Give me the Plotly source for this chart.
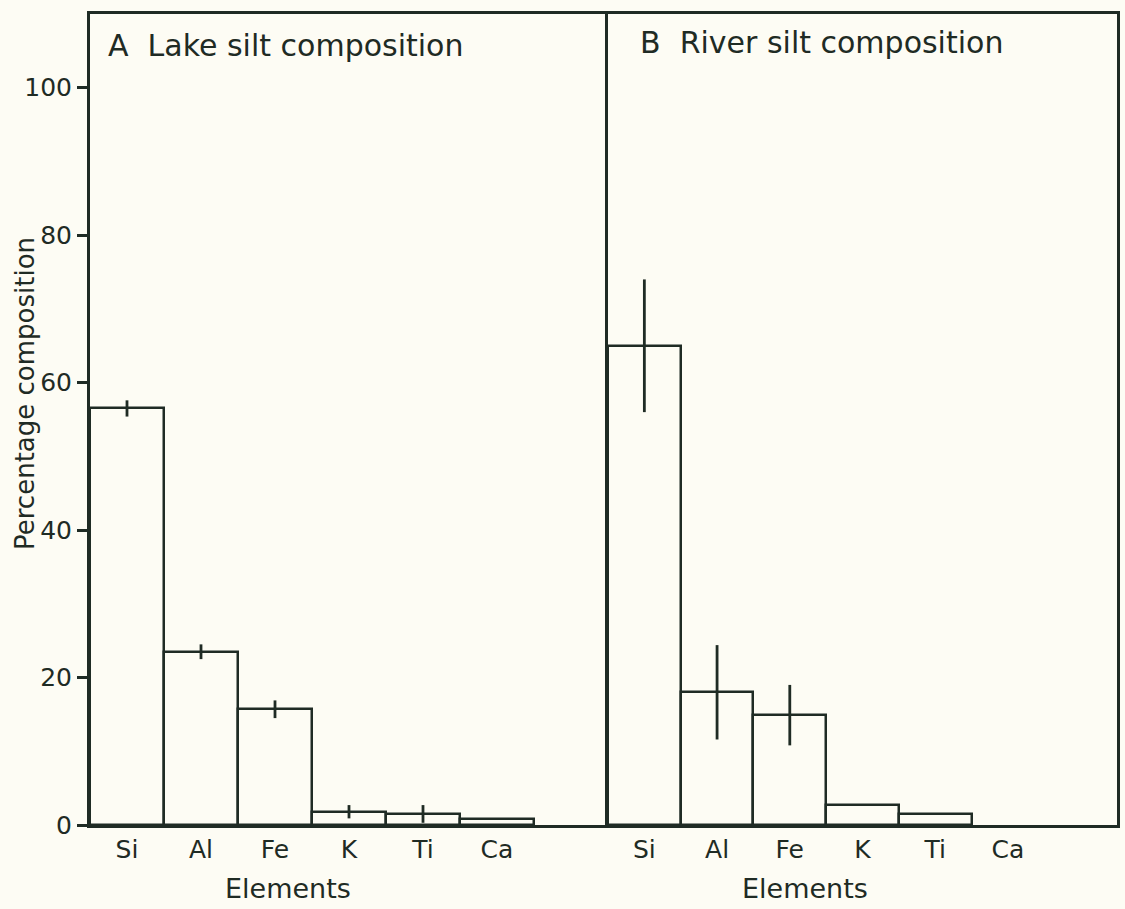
import plotly.graph_objects as go

# Element categories and mean percentage composition with spread
elements = ["Si", "Al", "Fe", "K", "Ti", "Ca"]

lake_values = [56.5, 23.5, 15.7, 1.8, 1.5, 0.8]
lake_errors = [1.1, 1.0, 1.2, 0.9, 1.2, 0.0]

river_values = [65.0, 18.0, 14.9, 2.7, 1.5, None]
river_errors = [9.0, 6.4, 4.1, 0.0, 0.0, 0.0]

y_ticks = [0, 20, 40, 60, 80, 100]

ink = "#1f2b24"
paper = "#fdfcf4"
font_family = "DejaVu Sans, Open Sans, sans-serif"

W, H = 1125, 909
ML, MR, MT, MB = 90, 8, 14, 84

fig = go.Figure()

def add_panel(values, errors, xref, yref):
    fig.add_trace(go.Bar(
        x=list(range(len(elements))), y=values,
        xaxis=xref, yaxis=yref,
        marker=dict(color=paper, line=dict(color=ink, width=2.5)),
        error_y=dict(type="data", array=errors, visible=True,
                     color=ink, thickness=2.8, width=0),
        width=1.0, showlegend=False,
    ))

add_panel(lake_values, lake_errors, "x", "y")
add_panel(river_values, river_errors, "x2", "y2")

split = 518 / 1027

common_x = dict(
    range=[-0.5, 6.5], tickmode="array",
    tickvals=list(range(len(elements))), ticktext=elements,
    showline=True, linecolor=ink, linewidth=3, mirror=True,
    ticks="", showgrid=False, zeroline=False, automargin=False,
    tickfont=dict(size=25, color=ink, family=font_family),
)

def px_to_paper_x(px):
    return (px - ML) / (W - ML - MR)

def px_to_paper_y(py):
    return (H - MB - py) / (H - MT - MB)

label_font = dict(size=27, color=ink, family=font_family)

fig.update_layout(
    width=W, height=H,
    margin=dict(l=ML, r=MR, t=MT, b=MB),
    paper_bgcolor=paper, plot_bgcolor=paper,
    bargap=0,
    xaxis=dict(domain=[0, split], anchor="y", **common_x),
    xaxis2=dict(domain=[split, 1], anchor="y2", **common_x),
    yaxis=dict(
        range=[0, 110], tickvals=y_ticks, ticktext=[str(v) for v in y_ticks],
        showline=True, linecolor=ink, linewidth=3,
        ticks="outside", ticklen=10, tickwidth=2.5, tickcolor=ink,
        showgrid=False, zeroline=False, automargin=False,
        tickfont=dict(size=25, color=ink, family=font_family),
        anchor="x",
    ),
    yaxis2=dict(
        range=[0, 110], showline=True, linecolor=ink, linewidth=3, mirror=True,
        showticklabels=False, ticks="", showgrid=False, zeroline=False,
        anchor="x2", automargin=False,
    ),
    annotations=[
        dict(text="A  Lake silt composition", xref="paper", yref="paper",
             x=px_to_paper_x(106), y=px_to_paper_y(46), xanchor="left", yanchor="middle",
             showarrow=False, font=dict(size=30, color=ink, family=font_family)),
        dict(text="B  River silt composition", xref="paper", yref="paper",
             x=px_to_paper_x(638), y=px_to_paper_y(43), xanchor="left", yanchor="middle",
             showarrow=False, font=dict(size=30, color=ink, family=font_family)),
        dict(text="Elements", xref="paper", yref="paper",
             x=px_to_paper_x(288), y=px_to_paper_y(888), xanchor="center", yanchor="middle",
             showarrow=False, font=label_font),
        dict(text="Elements", xref="paper", yref="paper",
             x=px_to_paper_x(805), y=px_to_paper_y(888), xanchor="center", yanchor="middle",
             showarrow=False, font=label_font),
        dict(text="Percentage composition", xref="paper", yref="paper",
             x=px_to_paper_x(25), y=px_to_paper_y(394), xanchor="center", yanchor="middle",
             textangle=-90, showarrow=False,
             font=dict(size=26, color=ink, family=font_family)),
    ],
)

fig.write_html("out.html")
